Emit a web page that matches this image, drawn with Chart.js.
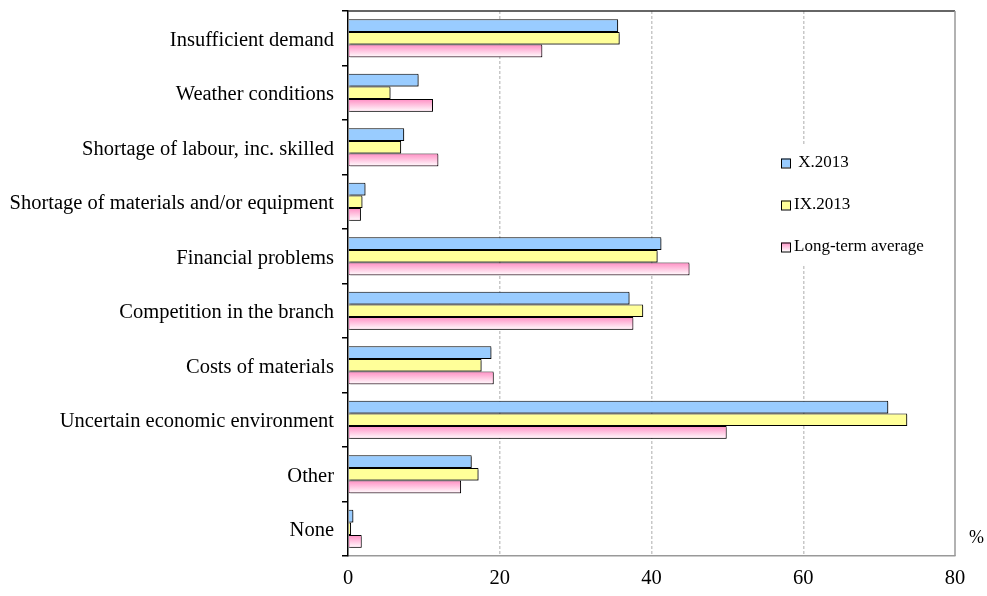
<!DOCTYPE html>
<html lang="en">
<head>
<meta charset="UTF-8">
<title>Barriers</title>
<script src="https://cdn.jsdelivr.net/npm/chart.js"></script>
<style>
  html, body { margin: 0; padding: 0; background: #fff; }
  #wrap { width: 987px; height: 596px; }
</style>
</head>
<body>
<div id="wrap"><canvas id="chart" width="987" height="596"></canvas></div>
<script>
// values (%)
const categories = ['Insufficient demand', 'Weather conditions', 'Shortage of labour, inc. skilled',
  'Shortage of materials and/or equipment', 'Financial problems', 'Competition in the branch',
  'Costs of materials', 'Uncertain economic environment', 'Other', 'None'];
const seriesNames = [' X.2013', 'IX.2013', 'Long-term average'];
const valuesX2013 = [35.6, 9.3, 7.4, 2.3, 41.3, 37.1, 18.9, 71.2, 16.3, 0.7];
const valuesIX2013 = [35.8, 5.6, 7.0, 1.9, 40.8, 38.9, 17.6, 73.7, 17.2, 0.4];
const valuesAverage = [25.6, 11.2, 11.9, 1.7, 45.0, 37.6, 19.2, 49.9, 14.9, 1.8];
const xTicks = [0, 20, 40, 60, 80];

const serif = "'Liberation Serif', 'Times New Roman', serif";
const blue = '#99ccff', yellow = '#ffff99', pink = '#ff99cc';

function pinkGradient(ctx, top, bottom) {
  const g = ctx.createLinearGradient(0, top, 0, bottom);
  g.addColorStop(0, '#ff8fc4');
  g.addColorStop(1, '#ffffff');
  return g;
}

const decor = {
  id: 'decor',
  beforeDatasetsDraw(chart) {
    const c = chart.ctx;
    c.save();
    c.shadowColor = 'rgba(0,0,0,0.45)';
    c.shadowOffsetX = 1.5;
    c.shadowOffsetY = 1.5;
    c.shadowBlur = 0;
  },
  afterDatasetsDraw(chart) {
    const c = chart.ctx;
    c.restore();
    // gradient fill on the long-term average bars
    chart.getDatasetMeta(2).data.forEach(el => {
      const p = el.getProps(['x', 'y', 'base', 'height'], true);
      const left = Math.min(p.x, p.base), w = Math.abs(p.x - p.base);
      const top = p.y - p.height / 2;
      if (w < 2) return;
      c.fillStyle = pinkGradient(c, top, top + p.height);
      c.fillRect(left + 1, top + 1, w - 2, p.height - 2);
    });
    // frame: top and right edges
    const a = chart.chartArea;
    c.save();
    c.strokeStyle = '#333';
    c.lineWidth = 1.5;
    c.beginPath(); c.moveTo(a.left, a.top); c.lineTo(a.right, a.top); c.stroke();
    c.strokeStyle = '#999';
    c.lineWidth = 1.5;
    c.beginPath(); c.moveTo(a.right, a.top); c.lineTo(a.right, a.bottom); c.stroke();
    c.restore();
  },
  afterDraw(chart) {
    const c = chart.ctx;
    const a = chart.chartArea;
    c.save();
    // legend box
    const lx = a.right - 185, ly = 145;
    c.fillStyle = '#fff';
    c.fillRect(lx, ly, 172, 120);
    c.font = '17px ' + serif;
    c.textBaseline = 'middle';
    c.textAlign = 'left';
    chart.data.datasets.forEach((ds, i) => {
      const cy = 163 + i * 42;
      const mx = lx + 11, ms = 9;
      c.fillStyle = i === 2 ? pinkGradient(c, cy - ms / 2, cy + ms / 2) : ds.backgroundColor;
      c.fillRect(mx, cy - ms / 2, ms, ms);
      c.strokeStyle = '#000';
      c.lineWidth = 1;
      c.strokeRect(mx + 0.5, cy - ms / 2 + 0.5, ms, ms);
      c.fillStyle = '#000';
      c.fillText(ds.label, mx + 13, cy);
    });
    // unit label
    c.font = '18px ' + serif;
    c.fillText('%', a.right + 14, 538);
    c.restore();
  }
};

new Chart(document.getElementById('chart'), {
  type: 'bar',
  data: {
    labels: categories,
    datasets: [
      { label: seriesNames[0], data: valuesX2013, backgroundColor: blue },
      { label: seriesNames[1], data: valuesIX2013, backgroundColor: yellow },
      { label: seriesNames[2], data: valuesAverage, backgroundColor: pink }
    ]
  },
  options: {
    indexAxis: 'y',
    responsive: false,
    animation: false,
    devicePixelRatio: 1,
    layout: { padding: { top: 11, right: 32, left: 0, bottom: 0 } },
    datasets: {
      bar: { borderColor: '#000', borderWidth: 1, categoryPercentage: 0.7, barPercentage: 1.0 }
    },
    plugins: { legend: { display: false }, tooltip: { enabled: false } },
    scales: {
      x: {
        min: 0, max: 80,
        afterBuildTicks: s => { s.ticks = xTicks.map(v => ({ value: v })); },
        afterFit: s => { s.height = 40; s.paddingLeft = 0; s.paddingRight = 0; },
        grid: {
          drawTicks: false,
          color: ctx => (ctx.tick && (ctx.tick.value === 0 || ctx.tick.value === 80)) ? 'transparent' : '#c8c8c8',
          lineWidth: 1.5
        },
        border: { display: true, color: '#999', width: 1.5, dash: [3, 2] },
        ticks: { color: '#000', padding: 10, font: { family: serif, size: 20.5 } }
      },
      y: {
        afterFit: s => { s.width = 348; s.paddingTop = 0; s.paddingBottom = 0; },
        grid: { drawOnChartArea: false, drawTicks: true, tickLength: 6, color: '#000', lineWidth: 1.5, offset: true },
        border: { display: true, color: '#000', width: 1.5 },
        ticks: { color: '#000', padding: 8, labelOffset: 2, font: { family: serif, size: 20.5 } }
      }
    }
  },
  plugins: [decor]
});
</script>
</body>
</html>
